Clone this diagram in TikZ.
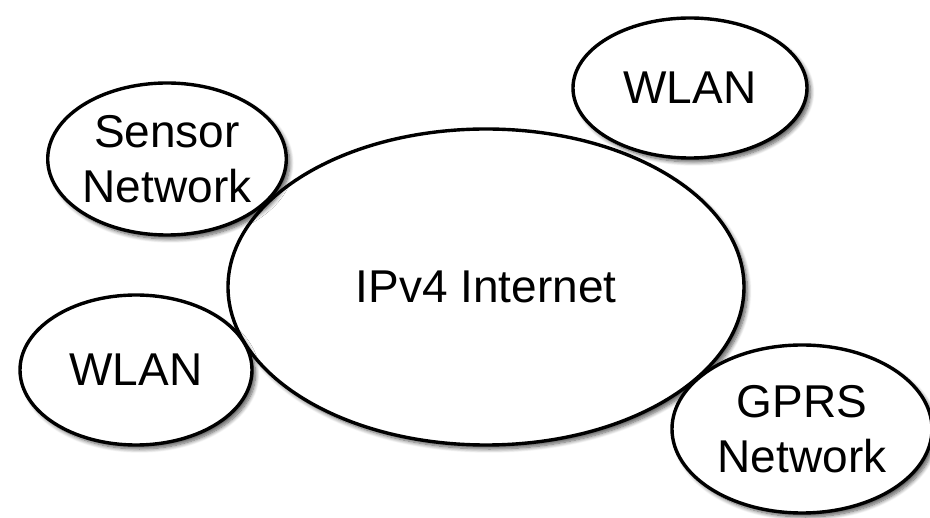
\documentclass[tikz,border=0pt]{standalone}
\usepackage{fontspec}
\setmainfont{Liberation Sans}
\usetikzlibrary{shapes.geometric,shadows.blur}

\begin{document}
\begin{tikzpicture}[x=1pt,y=-1pt,
    net/.style={ellipse, draw=black, line width=3.4pt, fill=white, inner sep=0pt,
      align=center, font=\fontsize{46}{55}\selectfont,
      blur shadow={shadow xshift=3.5pt, shadow yshift=-4pt, shadow blur radius=4pt,
        shadow blur steps=8, shadow opacity=65}}]
  % Fix the page to the size of the picture, (0,0) at the top left
  \useasboundingbox (0,0) rectangle (930,518);

  % Draw the big internet cloud in the middle
  \node[net, minimum width=516pt, minimum height=316pt] (internet) at (486,287) {IPv4 Internet};

  % Draw the networks round it
  \node[net, minimum width=236pt, minimum height=152pt] (sensor) at (167,159) {Sensor\\Network};
  \node[net, minimum width=234pt, minimum height=140pt] (wlanTop) at (690,88) {WLAN};
  \node[net, minimum width=232pt, minimum height=150pt] (wlanLeft) at (136,370) {WLAN};
  \node[net, minimum width=260pt, minimum height=168pt] (gprs) at (802,429) {GPRS\\Network};
\end{tikzpicture}
\end{document}
